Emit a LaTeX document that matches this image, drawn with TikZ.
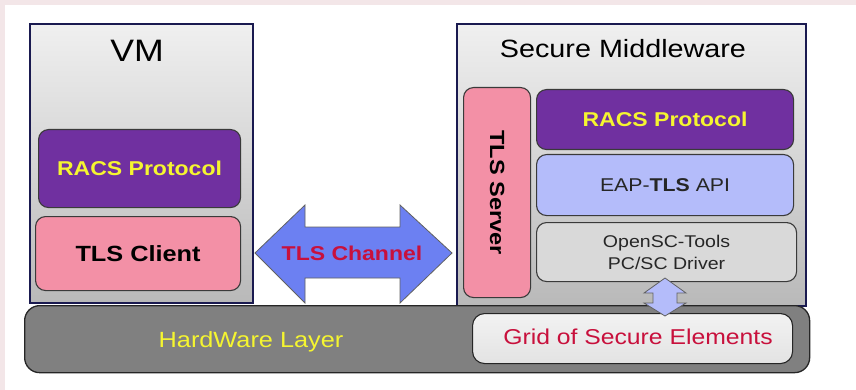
\documentclass[tikz,border=0pt]{standalone}
\usepackage{fontspec}
\setmainfont[FakeStretch=1.15]{Liberation Sans}
\definecolor{bgpink}{HTML}{F3E6E8}
\definecolor{navy}{HTML}{1A1A50}
\definecolor{racs}{HTML}{7030A0}
\definecolor{ylw}{HTML}{F5F530}
\definecolor{pinkbox}{HTML}{F390A6}
\definecolor{chan}{HTML}{6C80F2}
\definecolor{lav}{HTML}{B4BCFA}
\definecolor{lgray}{HTML}{D9D9D9}
\definecolor{hwgray}{HTML}{808080}
\definecolor{crim}{HTML}{C8103C}
\definecolor{edge}{HTML}{3A3A3A}
\begin{document}
\begin{tikzpicture}[x=1pt,y=-1pt,
  container/.style={draw=navy, line width=2.2pt, top color=gray!12, bottom color=gray!55, anchor=north west, inner sep=0pt},
  inbox/.style={draw=edge, line width=1.1pt, rounded corners=10pt, anchor=north west, inner sep=0pt, align=center},
  title/.style={text=black, inner sep=0pt},
  arrowshape/.style={draw=edge!80, line width=0.8pt, line join=miter}
]
\useasboundingbox (0,0) rectangle (856,390);
\fill[bgpink] (0,0) rectangle (856,390);
\fill[white] (5,5) rectangle (856,390);

% containers
\node[container, minimum width=223pt, minimum height=279pt] (vm) at (29,23) {};
\node[title, font=\fontsize{31}{31}\selectfont] (vmt) at (137,51) {VM};
\node[container, minimum width=349pt, minimum height=282pt] (sm) at (456,23) {};
\node[title, font=\fontsize{25}{25}\selectfont] (smt) at (623,49) {Secure Middleware};

% VM inner boxes
\node[inbox, fill=racs, minimum width=202pt, minimum height=78pt, text=ylw, font=\fontsize{20}{20}\selectfont\bfseries] (racsl) at (38,129) {RACS Protocol};
\node[inbox, fill=pinkbox, minimum width=205pt, minimum height=74pt, text=black, font=\fontsize{22}{22}\selectfont\bfseries] (tlsc) at (35,216) {TLS Client};

% SM inner boxes
\node[inbox, fill=pinkbox, minimum width=67pt, minimum height=210pt] (tlss) at (463,87) {};
\node[rotate=-90, font=\fontsize{20.5}{20.5}\selectfont\bfseries, inner sep=0pt] (tlsst) at (tlss.center) {TLS Server};
\node[inbox, fill=racs, minimum width=257pt, minimum height=60pt, text=ylw, font=\fontsize{20}{20}\selectfont\bfseries] (racsr) at (536,89) {RACS Protocol};
\node[inbox, fill=lav, minimum width=257pt, minimum height=61pt, text=black!85, font=\fontsize{18.5}{18.5}\selectfont] (eap) at (536,154) {EAP-\textbf{TLS} API};
\node[inbox, fill=lgray, minimum width=260pt, minimum height=59pt, text=black!85, font=\fontsize{17}{22}\selectfont] (opensc) at (536,222) {OpenSC-Tools\\PC/SC Driver};

% TLS channel arrow
\filldraw[arrowshape, fill=chan] (255,253) -- (305,205) -- (305,227) -- (400,227) -- (400,205) -- (452,253) -- (400,303) -- (400,278) -- (305,278) -- (305,303) -- cycle;
\node[text=crim, font=\fontsize{20}{20}\selectfont\bfseries, inner sep=0pt] (chant) at (352,253) {TLS Channel};

% hardware layer
\node[draw=black!85, line width=1.3pt, fill=hwgray, rounded corners=15pt, anchor=north west, minimum width=785pt, minimum height=67pt, inner sep=0pt] (hw) at (24,305) {};
\node[text=ylw, font=\fontsize{22}{22}\selectfont, inner sep=0pt] (hwt) at (251,342) {HardWare Layer};
\node[inbox, draw=black!85, top color=gray!10, bottom color=gray!22, minimum width=320pt, minimum height=50pt, rounded corners=12pt] (grid) at (472,313) {};
\node[text=crim, font=\fontsize{21.5}{21.5}\selectfont, inner sep=0pt] (gridt) at (638,337) {Grid of Secure Elements};

% small vertical double arrow between driver and grid
\filldraw[arrowshape, fill=lav] (665,278) -- (686,293) -- (677,293) -- (677,303) -- (686,303) -- (665,316) -- (644,303) -- (653,303) -- (653,293) -- (644,293) -- cycle;
\end{tikzpicture}
\end{document}
